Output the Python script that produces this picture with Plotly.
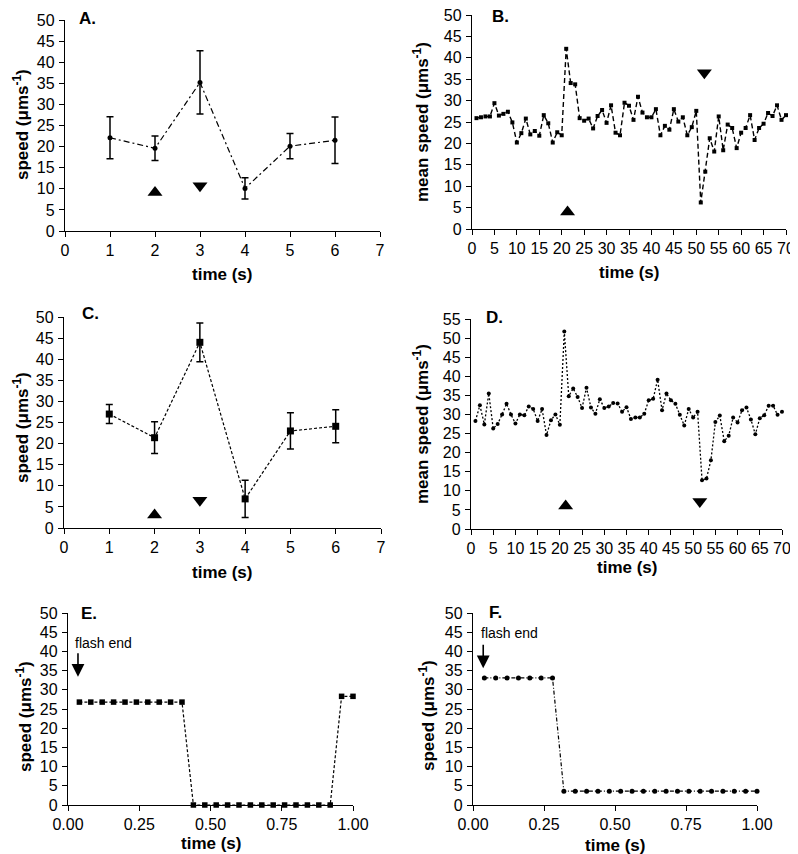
import plotly.graph_objects as go

# ---------------- data ----------------
# Panel A
a_time = [1, 2, 3, 4, 5, 6]
a_speed = [22.1, 19.6, 35.2, 10.1, 20.1, 21.5]
a_err = [5.0, 2.9, 7.5, 2.5, 3.0, 5.5]
a_up_t, a_up_y = [2], [9.1]
a_down_t, a_down_y = [3], [10.7]

# Panel C
c_time = [1, 2, 3, 4, 5, 6]
c_speed = [27.0, 21.4, 44.0, 6.9, 23.0, 24.1]
c_err = [2.25, 3.75, 4.6, 4.4, 4.3, 3.9]
c_up_t, c_up_y = [2], [3.1]
c_down_t, c_down_y = [3], [6.6]

# Panel B (mean speed vs time, 1..70 s)
b_time = list(range(1, 71))
b_speed = [25.9, 26.1, 26.3, 26.3, 29.4, 26.5, 26.9, 27.4, 24.9, 20.2,
           22.4, 25.8, 22.1, 22.9, 21.8, 26.6, 24.7, 20.2, 22.6, 21.9,
           42.1, 34.1, 33.8, 25.9, 25.3, 25.8, 23.5, 26.4, 27.8, 24.8,
           28.9, 22.5, 21.9, 29.5, 28.8, 25.5, 30.9, 27.2, 26.1, 26.1,
           28.0, 21.9, 24.1, 23.2, 28.0, 25.1, 26.1, 21.9, 23.8, 27.6,
           6.2, 13.4, 21.2, 18.1, 26.3, 18.4, 24.4, 23.6, 18.9, 22.5,
           23.6, 26.6, 20.8, 23.6, 24.6, 27.1, 26.4, 28.9, 25.5, 26.6]
b_up_t, b_up_y = [21.3], [4.0]
b_down_t, b_down_y = [51.8], [36.5]

# Panel D
d_time = list(range(1, 71))
d_speed = [28.3, 32.4, 27.4, 35.5, 26.3, 27.5, 30.0, 32.8, 30.0, 27.6,
           30.0, 29.8, 32.1, 31.4, 28.3, 31.4, 24.6, 28.5, 30.0, 27.3,
           51.7, 34.8, 36.8, 34.6, 31.7, 37.0, 31.8, 30.2, 34.0, 31.7,
           32.1, 33.0, 32.9, 30.7, 31.9, 28.8, 29.2, 29.2, 30.2, 33.7,
           34.1, 39.1, 31.1, 35.5, 33.7, 32.8, 29.9, 27.1, 31.4, 29.2,
           30.7, 12.8, 13.2, 18.0, 28.0, 29.7, 23.0, 24.4, 29.2, 27.9,
           31.1, 31.8, 28.7, 24.8, 29.0, 29.8, 32.3, 32.3, 29.9, 30.7]
d_up_t, d_up_y = [21.3], [6.0]
d_down_t, d_down_y = [51.5], [7.2]

# Panel E
e_time = [0.04, 0.08, 0.12, 0.16, 0.20, 0.24, 0.28, 0.32, 0.36, 0.40,
          0.44, 0.48, 0.52, 0.56, 0.60, 0.64, 0.68, 0.72, 0.76, 0.80,
          0.84, 0.88, 0.92, 0.96, 1.00]
e_speed = [26.8] * 10 + [0.0] * 13 + [28.3, 28.3]

# Panel F
f_time = [0.04, 0.08, 0.12, 0.16, 0.20, 0.24, 0.28, 0.32, 0.36, 0.40,
          0.44, 0.48, 0.52, 0.56, 0.60, 0.64, 0.68, 0.72, 0.76, 0.80,
          0.84, 0.88, 0.92, 0.96, 1.00]
f_speed = [33.1] * 7 + [3.6] * 18

# ---------------- figure ----------------
PAGE_OFF = 8            # browser body margin
W, H = 798 - PAGE_OFF, 854 - PAGE_OFF
FONT = "Liberation Sans, Arial, Helvetica, sans-serif"


def px_x(p):
    return (p - PAGE_OFF) / W


def px_y(p):
    return 1 - (p - PAGE_OFF) / H


fig = go.Figure()

panels = {
    # name: (x0, x1, ytop, ybottom) in screen pixels
    1: (65, 380, 20, 231),
    2: (472, 786, 15, 229),
    3: (64, 381, 317, 528),
    4: (471, 782, 319, 529),
    5: (68, 353, 613, 805),
    6: (473, 757, 613, 805),
}

axis_common = dict(showline=True, linecolor="black", linewidth=1.3,
                   ticks="outside", ticklen=5, tickwidth=1.3, tickcolor="black",
                   showgrid=False, zeroline=False, automargin=False,
                   ticklabeloverflow="allow",
                   tickfont=dict(family=FONT, size=16, color="black"))

xranges = {1: [0, 7], 2: [0, 70], 3: [0, 7], 4: [0, 70], 5: [0, 1], 6: [0, 1]}
yranges = {1: [0, 50], 2: [0, 50], 3: [0, 50], 4: [0, 55], 5: [0, 50], 6: [0, 50]}

layout_axes = {}
for k, (x0, x1, yt, yb) in panels.items():
    xa = "xaxis" if k == 1 else f"xaxis{k}"
    ya = "yaxis" if k == 1 else f"yaxis{k}"
    xd = dict(axis_common, domain=[px_x(x0), px_x(x1)], range=xranges[k],
              anchor="y" if k == 1 else f"y{k}")
    if k in (5, 6):
        xd.update(tickvals=[0, 0.25, 0.5, 0.75, 1.0], tickformat=".2f")
    elif k in (2, 4):
        xd.update(dtick=5, tick0=0)
    else:
        xd.update(dtick=1, tick0=0)
    yd = dict(axis_common, domain=[px_y(yb), px_y(yt)], range=yranges[k],
              anchor="x" if k == 1 else f"x{k}", dtick=5, tick0=0,
              ticklabelstandoff=1)
    layout_axes[xa] = xd
    layout_axes[ya] = yd


def ax(k):
    return ("x", "y") if k == 1 else (f"x{k}", f"y{k}")


def add_line(k, x, y, dash, symbol, msize, err=None, width=1.2):
    xr, yr = ax(k)
    tr = go.Scatter(x=x, y=y, xaxis=xr, yaxis=yr, mode="lines+markers",
                    line=dict(color="black", width=width, dash=dash),
                    marker=dict(color="black", symbol=symbol, size=msize),
                    cliponaxis=False, showlegend=False)
    if err is not None:
        tr.error_y = dict(type="data", array=err, visible=True, color="black",
                          thickness=1.5, width=3.5)
    fig.add_trace(tr)


def add_tri(k, x, y, symbol, size=13):
    xr, yr = ax(k)
    fig.add_trace(go.Scatter(x=x, y=y, xaxis=xr, yaxis=yr, mode="markers",
                             marker=dict(color="black", symbol=symbol, size=size),
                             cliponaxis=False, showlegend=False))


add_line(1, a_time, a_speed, "6px,3px,2px,3px", "circle", 5, a_err)
add_tri(1, a_up_t, a_up_y, "triangle-up")
add_tri(1, a_down_t, a_down_y, "triangle-down")

add_line(2, b_time, b_speed, "5px,3px", "square", 4, width=1.4)
add_tri(2, b_up_t, b_up_y, "triangle-up")
add_tri(2, b_down_t, b_down_y, "triangle-down")

add_line(3, c_time, c_speed, "3px,2px", "square", 7, c_err)
add_tri(3, c_up_t, c_up_y, "triangle-up")
add_tri(3, c_down_t, c_down_y, "triangle-down")

add_line(4, d_time, d_speed, "2px,2px", "circle", 4, width=1.3)
add_tri(4, d_up_t, d_up_y, "triangle-up")
add_tri(4, d_down_t, d_down_y, "triangle-down")

add_line(5, e_time, e_speed, "3px,2px", "square", 5.5)
add_line(6, f_time, f_speed, "4px,2px,1px,2px", "circle", 5)

annotations = []
# panel letters
letters = [("A.", 87, 18), ("B.", 500, 17), ("C.", 90, 313),
           ("D.", 495, 317), ("E.", 89, 613), ("F.", 496, 612)]
for t, xp, yp in letters:
    annotations.append(dict(text=f"<b>{t}</b>", x=px_x(xp), y=px_y(yp),
                            xref="paper", yref="paper", showarrow=False,
                            font=dict(family=FONT, size=17, color="black"),
                            xanchor="center", yanchor="middle"))

# axis titles
ytitle = "<b>speed (\u03bcms<sup>-1</sup>)</b>"
ytitle_mean = "<b>mean speed (\u03bcms<sup>-1</sup>)</b>"
xtitle = "<b>time (s)</b>"
titles = [
    (xtitle, 222, 275, 0), (xtitle, 629, 272, 0), (xtitle, 222, 572, 0),
    (xtitle, 627, 567, 0), (xtitle, 211, 843, 0), (xtitle, 615, 845, 0),
    (ytitle, 21, 125, -90), (ytitle_mean, 421, 122, -90), (ytitle, 21, 428, -90),
    (ytitle_mean, 421, 424, -90), (ytitle, 24, 717, -90), (ytitle, 427, 716, -90),
]
for t, xp, yp, ang in titles:
    annotations.append(dict(text=t, x=px_x(xp), y=px_y(yp), xref="paper",
                            yref="paper", showarrow=False, textangle=ang,
                            font=dict(family=FONT, size=17, color="black"),
                            xanchor="center", yanchor="middle"))

# flash end labels and arrows
for k, tx, ty, axx, axy in [(5, 0.125, 42.2, 0.035, 33.4), (6, 0.13, 44.9, 0.036, 35.6)]:
    xr, yr = ax(k)
    annotations.append(dict(text="flash end", x=tx, y=ty, xref=xr, yref=yr,
                            showarrow=False,
                            font=dict(family=FONT, size=14, color="black"),
                            xanchor="center", yanchor="middle"))
    annotations.append(dict(text="", x=axx, y=axy, xref=xr, yref=yr,
                            showarrow=True, arrowhead=2, arrowsize=1.6,
                            arrowwidth=1.6, arrowcolor="black", ax=0, ay=-25))

fig.update_layout(template="none", width=W, height=H,
                  margin=dict(l=0, r=0, t=0, b=0),
                  paper_bgcolor="white", plot_bgcolor="white",
                  showlegend=False, annotations=annotations, **layout_axes)

fig.write_html("out.html")
